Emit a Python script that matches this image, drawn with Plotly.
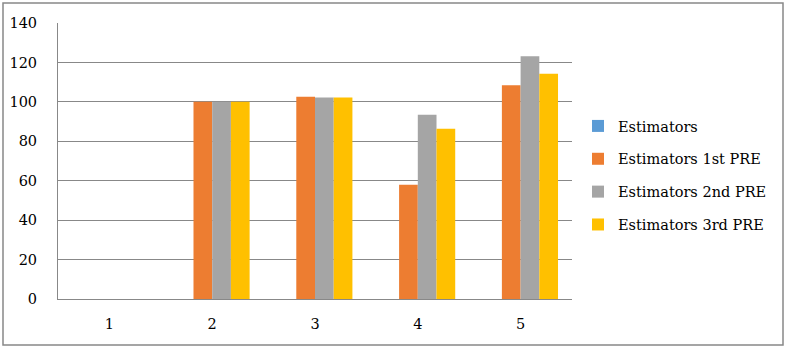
import plotly.graph_objects as go

categories = ["1", "2", "3", "4", "5"]
estimators = [0, 0, 0, 0, 0]
pre_1st = [None, 100, 102.6, 58.0, 108.4]
pre_2nd = [None, 100, 102.2, 93.5, 123.1]
pre_3rd = [None, 100, 102.2, 86.4, 114.3]
series_names = ["Estimators", "Estimators 1st PRE", "Estimators 2nd PRE", "Estimators 3rd PRE"]
series_colors = ["#5B9BD5", "#ED7D31", "#A5A5A5", "#FFC000"]
y_ticks = [0, 20, 40, 60, 80, 100, 120, 140]

FONT = "DejaVu Serif, serif"

fig = go.Figure()
for i, (name, vals, col) in enumerate(zip(series_names, [estimators, pre_1st, pre_2nd, pre_3rd], series_colors)):
    fig.add_trace(go.Bar(
        x=categories, y=vals, name=name,
        marker=dict(color=col, line=dict(width=0)),
        legendgroup=f"g{i}",
    ))

W, H = 788, 349
L, R, T, B = 58, 216, 23, 50
pw, ph = W - L - R, H - T - B

fig.update_layout(
    width=W, height=H,
    margin=dict(l=L, r=R, t=T, b=B, autoexpand=False),
    barmode="group",
    bargap=0.272,
    bargroupgap=0,
    plot_bgcolor="white",
    paper_bgcolor="white",
    font=dict(family=FONT, size=14, color="black"),
    showlegend=True,
    legend=dict(
        x=(578 - L) / pw, xanchor="left",
        y=(299 - 110) / ph, yanchor="top",
        font=dict(family=FONT, size=14.5, color="black"),
        tracegroupgap=11,
        itemwidth=30,
        bgcolor="rgba(0,0,0,0)",
    ),
    xaxis=dict(
        showgrid=False, showline=True, linecolor="#888888", linewidth=1,
        ticks="", tickfont=dict(family=FONT, size=14.5, color="black"),
        ticklabelstandoff=12,
    ),
    yaxis=dict(
        range=[0, 140], tickvals=y_ticks, showgrid=True, gridcolor="#888888", gridwidth=1,
        showline=True, linecolor="#888888", linewidth=1, zeroline=False,
        ticks="", tickfont=dict(family=FONT, size=14.5, color="black"),
        ticklabelstandoff=17,
    ),
    shapes=[dict(
        type="rect", xref="paper", yref="paper",
        x0=(3 - L) / pw, x1=(783 - L) / pw,
        y0=(299 - 345) / ph, y1=(299 - 3) / ph,
        line=dict(color="#888888", width=1.5), fillcolor="rgba(0,0,0,0)", layer="below",
    )],
)

fig.write_html("out.html")
